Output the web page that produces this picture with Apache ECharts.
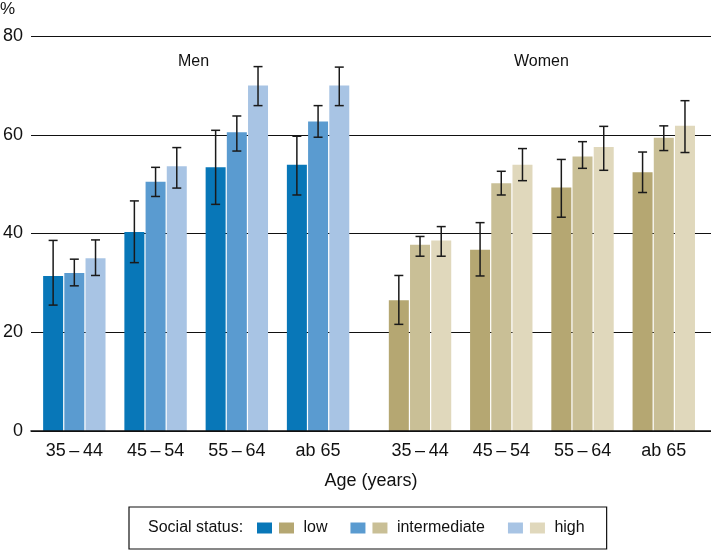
<!DOCTYPE html>
<html>
<head>
<meta charset="utf-8">
<script src="https://cdn.jsdelivr.net/npm/echarts@6/dist/echarts.min.js"></script>
<style>html,body{margin:0;padding:0;background:#fff}#c{width:711px;height:552px}</style>
</head>
<body>
<div id="c"></div>
<script>
const categories = ['35\u2009\u2013\u200944', '45\u2009\u2013\u200954', '55\u2009\u2013\u200964', 'ab 65'];
const yTicks = [0, 20, 40, 60, 80];

const menLow = [31.4, 40.3, 53.4, 53.9];
const menLowCI = [[25.5, 38.6], [34.1, 46.6], [45.9, 60.9], [47.8, 59.7]];
const menInt = [32.0, 50.5, 60.5, 62.7];
const menIntCI = [[29.4, 34.8], [47.5, 53.4], [56.7, 63.8], [59.5, 65.9]];
const menHigh = [35.0, 53.6, 70.0, 70.0];
const menHighCI = [[31.5, 38.7], [49.2, 57.4], [65.9, 73.8], [65.9, 73.7]];

const womenLow = [26.5, 36.7, 49.3, 52.4];
const womenLowCI = [[21.6, 31.5], [31.4, 42.2], [43.3, 55.0], [48.3, 56.5]];
const womenInt = [37.7, 50.2, 55.6, 59.4];
const womenIntCI = [[35.4, 39.4], [47.8, 52.6], [53.2, 58.6], [56.8, 61.8]];
const womenHigh = [38.6, 53.9, 57.5, 61.8];
const womenHighCI = [[35.4, 41.4], [50.7, 57.2], [52.8, 61.7], [56.4, 66.9]];

const statusNames = ['low', 'intermediate', 'high'];
const menColors = ['#0877b8', '#5a9bd0', '#a8c4e4'];
const womenColors = ['#b5a772', '#c9bf96', '#e0d8bc'];

const FONT = "'Liberation Sans', Arial, Helvetica, sans-serif";
const BAR_W = 20, BAR_GAP = '6%';

function barSeries(name, data, color, axisIdx) {
  return {
    type: 'bar', name: name, data: data,
    xAxisIndex: axisIdx, yAxisIndex: axisIdx,
    barWidth: BAR_W, barGap: BAR_GAP,
    itemStyle: { color: color },
    z: 2
  };
}
function errSeries(ci, status, axisIdx) {
  return {
    type: 'custom',
    xAxisIndex: axisIdx, yAxisIndex: axisIdx,
    data: ci.map((d, i) => [i, d[0], d[1]]),
    z: 5,
    silent: true,
    renderItem: function (params, api) {
      const layout = api.barLayout({ barWidth: BAR_W, barGap: BAR_GAP, count: 3 });
      const x = api.value(0);
      const lo = api.coord([x, api.value(1)]);
      const hi = api.coord([x, api.value(2)]);
      const off = layout[status].offsetCenter;
      const cx = lo[0] + off;
      const hw = 4.5;
      const st = { stroke: '#1a1a1a', lineWidth: 1.5 };
      return {
        type: 'group',
        children: [
          { type: 'line', shape: { x1: cx, y1: lo[1], x2: cx, y2: hi[1] }, style: st },
          { type: 'line', shape: { x1: cx - hw, y1: lo[1], x2: cx + hw, y2: lo[1] }, style: st },
          { type: 'line', shape: { x1: cx - hw, y1: hi[1], x2: cx + hw, y2: hi[1] }, style: st }
        ]
      };
    }
  };
}

const menData = [menLow, menInt, menHigh];
const menCI = [menLowCI, menIntCI, menHighCI];
const womenData = [womenLow, womenInt, womenHigh];
const womenCI = [womenLowCI, womenIntCI, womenHighCI];

const series = [];
for (let s = 0; s < 3; s++) series.push(barSeries('Men ' + statusNames[s], menData[s], menColors[s], 1));
for (let s = 0; s < 3; s++) series.push(barSeries(statusNames[s], womenData[s], womenColors[s], 2));
for (let s = 0; s < 3; s++) series.push(errSeries(menCI[s], s, 1));
for (let s = 0; s < 3; s++) series.push(errSeries(womenCI[s], s, 2));

const legendData = [];
for (let s = 0; s < 3; s++) { legendData.push('Men ' + statusNames[s]); legendData.push(statusNames[s]); }

const TOP = 36, BOTTOM = 121;
const hiddenY = (i) => ({ type: 'value', gridIndex: i, min: 0, max: 80, interval: 20, show: false });
const catX = (i) => ({
  type: 'category', gridIndex: i, data: categories,
  axisLine: { show: false }, axisTick: { show: false },
  axisLabel: { fontSize: 18, color: '#111', fontFamily: FONT, margin: 11 }
});

const option = {
  animation: false,
  backgroundColor: '#fff',
  textStyle: { fontFamily: FONT },
  title: [
    { text: '%', left: 0, top: 1, padding: 0, textStyle: { fontSize: 17, fontWeight: 'normal', color: '#111', fontFamily: FONT } },
    { text: 'Men', left: 178, top: 54, padding: 0, textStyle: { fontSize: 16, fontWeight: 'normal', color: '#111', fontFamily: FONT } },
    { text: 'Women', left: 514, top: 54, padding: 0, textStyle: { fontSize: 16, fontWeight: 'normal', color: '#111', fontFamily: FONT } },
    { text: 'Social status:', left: 148, top: 520, padding: 0, z: 10, textStyle: { fontSize: 16, fontWeight: 'normal', color: '#111', fontFamily: FONT } }
  ],
  legend: {
    left: 129, top: 507,
    padding: [13, 22, 13, 128],
    borderColor: '#111', borderWidth: 1.2,
    itemWidth: 15, itemHeight: 11, itemGap: 7,
    icon: 'rect',
    selectedMode: false,
    data: legendData,
    formatter: function (name) {
      if (name.indexOf('Men ') === 0) return '';
      return name === 'high' ? '\u00a0' + name : '\u00a0' + name + '\u2002\u2002';
    },
    textStyle: { fontSize: 16, color: '#111', fontFamily: FONT }
  },
  grid: [
    { left: 28, right: 0, top: TOP, bottom: BOTTOM, containLabel: false },
    { left: 33.7, width: 325, top: TOP, bottom: BOTTOM, containLabel: false },
    { left: 379.4, width: 325, top: TOP, bottom: BOTTOM, containLabel: false }
  ],
  xAxis: [
    {
      type: 'value', gridIndex: 0, min: 0, max: 1,
      axisLine: { show: true, onZero: false, lineStyle: { color: '#111', width: 1.6 } },
      axisTick: { show: false }, axisLabel: { show: false }, splitLine: { show: false },
      name: 'Age (years)', nameLocation: 'middle', nameGap: 41,
      nameTextStyle: { fontSize: 18, color: '#111', fontFamily: FONT },
      z: 10
    },
    catX(1), catX(2)
  ],
  yAxis: [
    {
      type: 'value', gridIndex: 0, min: yTicks[0], max: yTicks[yTicks.length - 1], interval: 20,
      axisLine: { show: false }, axisTick: { show: false },
      axisLabel: { fontSize: 18, color: '#111', fontFamily: FONT, margin: 8 },
      splitLine: { show: true, lineStyle: { color: '#111', width: 1.2 } }
    },
    hiddenY(1), hiddenY(2)
  ],
  series: series
};

const chart = echarts.init(document.getElementById('c'), null, { renderer: 'canvas' });
chart.setOption(option);
</script>
</body>
</html>
